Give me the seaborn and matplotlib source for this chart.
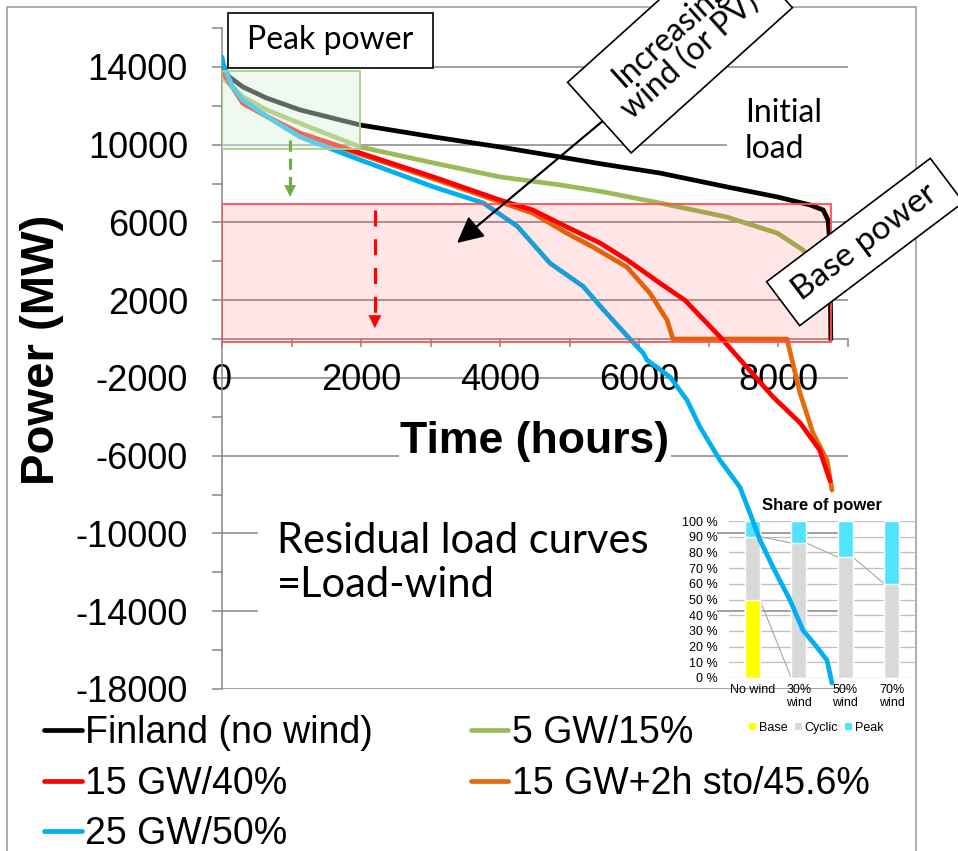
import matplotlib
matplotlib.use("Agg")
import numpy as np
import pandas as pd
import matplotlib.pyplot as plt
import seaborn as sns
from matplotlib.patches import Rectangle, Patch
from matplotlib.lines import Line2D
from matplotlib.transforms import IdentityTransform
from matplotlib.ticker import FixedLocator, FuncFormatter

# ---------------- data ----------------
finland_hours = [0, 100, 300, 640, 1120, 1990, 3040, 4000, 4860, 5440, 6300, 7260, 7990, 8460, 8650, 8720, 8745, 8760]
finland_power = [14100, 13500, 12970, 12400, 11790, 11010, 10400, 9880, 9370, 9020, 8540, 7830, 7310, 6900, 6640, 6120, 5000, 0]

wind5_hours = [0, 50, 300, 640, 1120, 1990, 3040, 4000, 4860, 5440, 6300, 7260, 7990, 8360, 8500]
wind5_power = [13850, 13300, 12460, 11790, 11100, 9880, 9060, 8340, 7930, 7600, 7000, 6280, 5450, 4580, 3900]

wind15_hours = [0, 300, 650, 1120, 1990, 3040, 4000, 4470, 4960, 5440, 5830, 6300, 6660, 7170, 7550, 7930, 8320, 8600, 8750]
wind15_power = [13800, 12130, 11440, 10600, 9570, 8340, 7150, 6640, 5770, 4940, 4070, 2880, 2000, 100, -1440, -2980, -4320, -5710, -7300]

wind15sto_hours = [0, 300, 650, 1120, 1990, 3040, 4000, 4470, 4960, 5338, 5827, 6158, 6403, 6489, 8129, 8317, 8504, 8705, 8777]
wind15sto_power = [13800, 12130, 11440, 10550, 9500, 8250, 7050, 6480, 5450, 4730, 3700, 2360, 980, 0, 0, -2780, -4840, -6230, -7770]

wind25_hours = [0, 30, 150, 300, 650, 1120, 1990, 3040, 3760, 4250, 4720, 5200, 5440, 5870, 6060, 6115, 6446, 6690,
                6878, 7165, 7453, 7597, 7741, 7928, 8173, 8360, 8561, 8705, 8777]
wind25_power = [14500, 14000, 12970, 12300, 11440, 10400, 9210, 7830, 7000, 5800, 3900, 2700, 1700, 0, -720, -1080, -1950, -3140,
                -4530, -6230, -7620, -8960, -10340, -11730, -13430, -14980, -15850, -16520, -17700]

series_labels = ["Finland (no wind)", "5 GW/15%", "15 GW/40%", "15 GW+2h sto/45.6%", "25 GW/50%"]
series_colors = ["#000000", "#9BBB59", "#FF0000", "#E46C0A", "#00B0F0"]

share_categories = ["No wind", "30%\nwind", "50%\nwind", "70%\nwind"]
share_base = [50, 0, 0, 0]
share_cyclic = [40, 86, 77, 60]
share_peak = [10, 14, 23, 40]
share_labels = ["Base", "Cyclic", "Peak"]
share_colors = ["#FFFF00", "#D9D9D9", "#4FE5FF"]

y_major_ticks = list(range(-18000, 14001, 4000))
y_minor_ticks = list(range(-16000, 16001, 4000))
x_major_ticks = [0, 2000, 4000, 6000, 8000]
x_minor_ticks = [1000, 3000, 5000, 7000, 9000]

peak_zone = (0, 1990, 9780, 13790)      # hours from, hours to, MW low, MW high
base_zone = (0, 8760, -150, 6950)
peak_arrow = (980, 10240, 7310)          # hours, MW start, MW tip
base_arrow = (2200, 6640, 560)
wind_arrow = ((5583, 11530), (3381, 4941))

# ---------------- styling ----------------
sns.set_theme(style="ticks")
plt.rcParams["font.family"] = ["Liberation Sans", "DejaVu Sans"]
plt.rcParams["axes.unicode_minus"] = False
plt.rcParams["text.color"] = "black"
plt.rcParams["axes.labelcolor"] = "black"
plt.rcParams["xtick.labelcolor"] = "black"
plt.rcParams["ytick.labelcolor"] = "black"
GRAY = "#868686"
ANN_FONT = ["Lato", "DejaVu Sans"]

W, H = 958, 851
fig = plt.figure(figsize=(W / 100, H / 100), dpi=100, facecolor="white")
ID = IdentityTransform()


def P(x, y):
    return (x, H - y)


def frac_rect(x0, y0, x1, y1):
    return [x0 / W, 1 - y1 / H, (x1 - x0) / W, (y1 - y0) / H]


main_rect = frac_rect(222, 28, 847.5, 689)

# ---------------- main axes (grid, spines, ticks) ----------------
ax = fig.add_axes(main_rect)
ax.set_zorder(0)
ax.patch.set_alpha(0)
ax.set_xlim(0, 9000)
ax.set_ylim(-18000, 16000)
for s in ["top", "right"]:
    ax.spines[s].set_visible(False)
ax.spines["left"].set_color(GRAY)
ax.spines["left"].set_linewidth(1.1)
ax.spines["bottom"].set_position(("data", 0))
ax.spines["bottom"].set_color(GRAY)
ax.spines["bottom"].set_linewidth(1.1)

ax.yaxis.set_major_locator(FixedLocator(y_major_ticks))
ax.yaxis.set_minor_locator(FixedLocator(y_minor_ticks))
ax.xaxis.set_major_locator(FixedLocator(x_major_ticks))
ax.xaxis.set_minor_locator(FixedLocator(x_minor_ticks))
fmt = FuncFormatter(lambda v, p: f"{int(round(v))}")
ax.yaxis.set_major_formatter(fmt)
ax.xaxis.set_major_formatter(fmt)
ax.tick_params(axis="both", which="both", color=GRAY, width=1.1, direction="out", labelcolor="black")
ax.tick_params(axis="y", which="both", length=7.5, pad=17, labelsize=26, left=True)
ax.tick_params(axis="x", which="both", length=6, pad=11, labelsize=26, bottom=True)
ax.yaxis.grid(True, which="major", color=GRAY, lw=1.1)
ax.xaxis.grid(False)
ax.yaxis.set_zorder(1.4)
ax.xaxis.set_zorder(1.6)

ax.set_ylabel("Power (MW)", fontsize=34, fontweight="bold", va="center", color="black")
ax.yaxis.set_label_coords((42 - 222) / 625.5, (689 - 350) / 661)
ax.set_xlabel("Time (hours)", fontsize=32, fontweight="bold", va="center", color="black",
              bbox=dict(fc="white", ec="none", pad=1))
ax.xaxis.set_label_coords((535 - 222) / 625.5, (689 - 442) / 661)

# white background behind the "Residual load curves" note and "Initial load"
fig.add_artist(Rectangle(P(258, 676), 717 - 258, 676 - 500, transform=ID, fc="white", ec="none", zorder=0.5))
fig.add_artist(Rectangle(P(727, 168), 850 - 727, 168 - 88, transform=ID, fc="white", ec="none", zorder=0.5))
fig.text(*P(277, 553), "Residual load curves", transform=ID, fontsize=30, family=ANN_FONT,
         ha="left", va="baseline", zorder=0.6, color="black")
fig.text(*P(277, 597), "=Load-wind", transform=ID, fontsize=30, family=ANN_FONT,
         ha="left", va="baseline", zorder=0.6, color="black")
fig.text(*P(745, 122), "Initial", transform=ID, fontsize=23, family=ANN_FONT, ha="left", va="baseline",
         zorder=0.6, color="black")
fig.text(*P(745, 158), "load", transform=ID, fontsize=23, family=ANN_FONT, ha="left", va="baseline",
         zorder=0.6, color="black")

# ---------------- inset: share of power ----------------
axi = fig.add_axes(frac_rect(729, 521, 915, 678))
axi.set_zorder(1)
axi.patch.set_alpha(0)
tot_peak = [b + c + p for b, c, p in zip(share_base, share_cyclic, share_peak)]
tot_cyc = [b + c for b, c in zip(share_base, share_cyclic)]
bw = 0.32
for vals, col in zip([tot_peak, tot_cyc, share_base], share_colors[::-1]):
    sns.barplot(x=share_categories, y=vals, color=col, saturation=1, width=bw, errorbar=None, ax=axi, zorder=3)
for tops in [tot_cyc, share_base]:
    for i in range(len(tops) - 1):
        axi.plot([i + bw / 2, i + 1 - bw / 2], [tops[i], tops[i + 1]], color="#A6A6A6", lw=0.8, zorder=2.5)
axi.set_xlim(-0.5, 3.5)
axi.set_ylim(0, 100)
axi.set_yticks(range(0, 101, 10))
axi.yaxis.set_major_formatter(FuncFormatter(lambda v, p: f"{int(v)} %"))
axi.tick_params(axis="y", length=0, pad=8, labelsize=9, labelcolor="black")
axi.tick_params(axis="x", length=0, pad=4, labelsize=9, labelcolor="black")
axi.yaxis.grid(True, color="#BFBFBF", lw=0.9)
axi.set_axisbelow(True)
for s in axi.spines.values():
    s.set_visible(False)
axi.set_xlabel("")
axi.set_ylabel("")
axi.set_title("Share of power", fontsize=12, fontweight="bold", pad=8, color="black")
axi.legend(handles=[Patch(fc=c, ec="none") for c in share_colors], labels=share_labels,
           loc="upper center", bbox_to_anchor=(0.47, -0.24), ncol=3, frameon=False, fontsize=9,
           handlelength=0.55, handleheight=0.55, handletextpad=0.2, columnspacing=0.6, borderpad=0)

# ---------------- overlay axes: curves, zones, arrows ----------------
ov = fig.add_axes(main_rect, sharex=ax, sharey=ax)
ov.set_zorder(2)
ov.patch.set_alpha(0)
ov.axis("off")

all_hours = [finland_hours, wind5_hours, wind15_hours, wind15sto_hours, wind25_hours]
all_power = [finland_power, wind5_power, wind15_power, wind15sto_power, wind25_power]
for i in [0, 1, 3, 2, 4]:
    df = pd.DataFrame({"hours": all_hours[i], "power": all_power[i]})
    sns.lineplot(data=df, x="hours", y="power", ax=ov, color=series_colors[i], lw=3.4, sort=False,
                 estimator=None, legend=False, solid_capstyle="round", solid_joinstyle="round")

h0, h1, p0, p1 = peak_zone
ov.add_patch(Rectangle((h0, p0), h1 - h0, p1 - p0, fc=(0.86, 0.95, 0.86, 0.43), ec="#A9D18E", lw=1.3, zorder=4))
h0, h1, p0, p1 = base_zone
ov.add_patch(Rectangle((h0, p0), h1 - h0, p1 - p0, fc=(1, 0, 0, 0.1), ec="#FF5050", lw=1.3, zorder=4))

hx, ps, pt = peak_arrow
ov.plot([hx, hx], [ps, pt + 600], color="#70AD47", lw=2.3, ls=(0, (3.5, 2.2)), zorder=5)
ov.annotate("", xy=(hx, pt), xytext=(hx, pt + 700),
            arrowprops=dict(arrowstyle="-|>", color="#70AD47", lw=0.1, mutation_scale=21, shrinkA=0, shrinkB=0), zorder=5)
hx, ps, pt = base_arrow
ov.plot([hx, hx], [ps, pt + 600], color="#FF0000", lw=2.3, ls=(0, (5, 4)), zorder=5)
ov.annotate("", xy=(hx, pt), xytext=(hx, pt + 700),
            arrowprops=dict(arrowstyle="-|>", color="#FF0000", lw=0.1, mutation_scale=23, shrinkA=0, shrinkB=0), zorder=5)
(ws, wt) = wind_arrow
ov.annotate("", xy=wt, xytext=ws,
            arrowprops=dict(arrowstyle="-|>", color="black", lw=1.6, mutation_scale=40, shrinkA=0, shrinkB=0), zorder=5)

ax.set_xlim(0, 9000)
ax.set_ylim(-18000, 16000)

# ---------------- legend ----------------
leg_order = [0, 2, 4, 1, 3]
handles = [Line2D([0], [0], color=series_colors[i], lw=3.4, solid_capstyle="round") for i in leg_order]
leg = fig.legend(handles, [series_labels[i] for i in leg_order], loc="upper left",
                 bbox_to_anchor=(44 / W, 1 - 715 / H), ncol=2, frameon=False, fontsize=27,
                 handlelength=1.0, handletextpad=0.1, columnspacing=2.6, labelspacing=0.39,
                 borderpad=0, borderaxespad=0)
for t in leg.get_texts():
    t.set_color("black")

# ---------------- outer frame and callout boxes ----------------
fig.add_artist(Rectangle(P(7, 880), 916 - 7, 880 - 7, transform=ID, fc="none", ec="#A0A0A0", lw=1.2, zorder=2.5))


def callout(cx, cy, w, h, angle):
    fig.add_artist(Rectangle((cx - w / 2, H - cy - h / 2), w, h, angle=angle, rotation_point="center",
                             transform=ID, fc="white", ec="black", lw=1.2, zorder=4))


callout(330.5, 40.5, 205, 55, 0)
fig.text(*P(330, 40), "Peak power", transform=ID, fontsize=23, family=ANN_FONT, ha="center", va="center",
         zorder=4.5, color="black")
callout(680, 45, 217, 95, 42)
fig.text(*P(680, 45), "Increasing\nwind (or PV)", transform=ID, fontsize=23, family=ANN_FONT, ha="center",
         va="center", rotation=42, rotation_mode="anchor", linespacing=1.0, zorder=4.5, color="black")
callout(865, 242, 205, 55, 37)
fig.text(*P(865, 242), "Base power", transform=ID, fontsize=24, family=ANN_FONT, ha="center", va="center",
         rotation=37, rotation_mode="anchor", zorder=4.5, color="black")

fig.savefig("out.png", dpi=100, facecolor="white")
